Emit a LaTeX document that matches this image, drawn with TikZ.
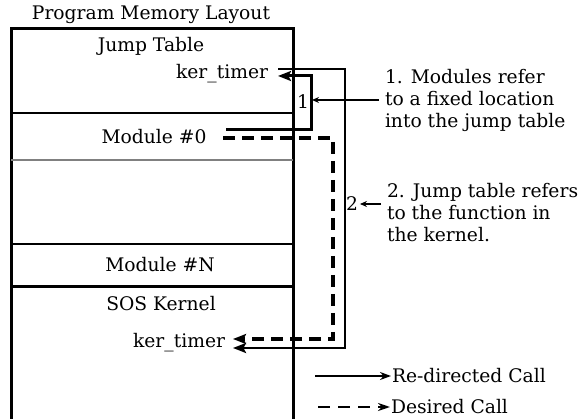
\documentclass[tikz,border=0pt]{standalone}
\usepackage{fontspec}
\setmainfont{DejaVu Serif}
\usetikzlibrary{arrows.meta,calc}
\begin{document}
\begin{tikzpicture}[x=1pt,y=-1pt,
  font=\fontsize{18.7}{22}\selectfont,
  txt/.style={inner sep=0pt},
  note/.style={line width=1.2pt,-{Stealth[length=7pt,width=6pt]}},
  redir/.style={line width=3pt,-{Stealth[length=13pt,width=10pt,inset=2.5pt]}},
  redirout/.style={line width=2.5pt,-{Stealth[length=13pt,width=10pt,inset=2.5pt]}},
  desired/.style={line width=3.2pt,dash pattern=on 12pt off 7pt,-{Stealth[length=13pt,width=10pt,inset=2.5pt]}},
  legsolid/.style={line width=2pt,-{Stealth[length=11pt,width=8pt]}},
  legdash/.style={line width=2.8pt,dash pattern=on 12pt off 8pt,-{Stealth[length=12pt,width=8pt]}}]
\useasboundingbox (0,0) rectangle (578,419);
\fill[white] (0,0) rectangle (578,419);
% memory box
\draw[line width=3pt] (11,29) rectangle (293,430);
\draw[line width=2.6pt] (11,113) -- (293,113);
\draw[line width=2pt,gray] (11,160) -- (293,160);
\draw[line width=1.3pt] (11,244) -- (293,244);
\draw[line width=3pt] (11,287) -- (293,287);
% texts
\node[txt] (title) at (151,15) {Program Memory Layout};
\node[txt] (jt) at (151,46) {Jump Table};
\node[txt,anchor=east,outer xsep=10pt] (kt1) at (278,74) {ker\_timer};
\node[txt] (m0) at (154,137) {Module \#0};
\node[txt] (mn) at (160,265) {Module \#N};
\node[txt] (sos) at (161,304) {SOS Kernel};
\node[txt,anchor=east,outer xsep=8pt] (kt2) at (233,343) {ker\_timer};
% connectors
\coordinate (s1) at (226,130);
\coordinate (b1) at (311,130);
\coordinate (b2) at (311,76);
\draw[redir] (s1) -- (b1) -- (b2) -- ($(kt1.east)+(0,2)$);
\coordinate (o1) at (345,69);
\coordinate (o2) at (345,348);
\draw[redirout] ($(kt1.east)+(0,-5)$) -- (o1) -- (o2) -- ($(kt2.east)+(0,5)$);
\coordinate (d1) at (223,138);
\coordinate (d2) at (333,138);
\coordinate (d3) at (333,339);
\draw[desired] (d1) -- (d2) -- (d3) -- ($(kt2.east)+(0,-4)$);
% annotations
\node[txt] (lbl1) at (303,102) {1};
\node[txt,outer xsep=2pt] (lbl2) at (352,204) {2};
\node[txt,anchor=west,align=left,outer xsep=6pt] (anno1) at (379,100) {1. Modules refer\\to a fixed location\\into the jump table};
\node[txt,anchor=west,align=left,outer xsep=6pt] (anno2) at (381,213) {2. Jump table refers\\to the function in\\the kernel.};
\coordinate (p1) at (312,100);
\draw[note] (anno1.west) -- (p1);
\draw[note] (anno2.west |- lbl2.east) -- (lbl2.east);
% legend
\node[txt,anchor=west,outer xsep=1pt] (leg1) at (391,376) {Re-directed Call};
\node[txt,anchor=west,outer xsep=1pt] (leg2) at (390,407) {Desired Call};
\coordinate (ls1) at (315,376);
\coordinate (ls2) at (318,407);
\draw[legsolid] (ls1) -- (leg1.west);
\draw[legdash] (ls2) -- (leg2.west);
\end{tikzpicture}
\end{document}
